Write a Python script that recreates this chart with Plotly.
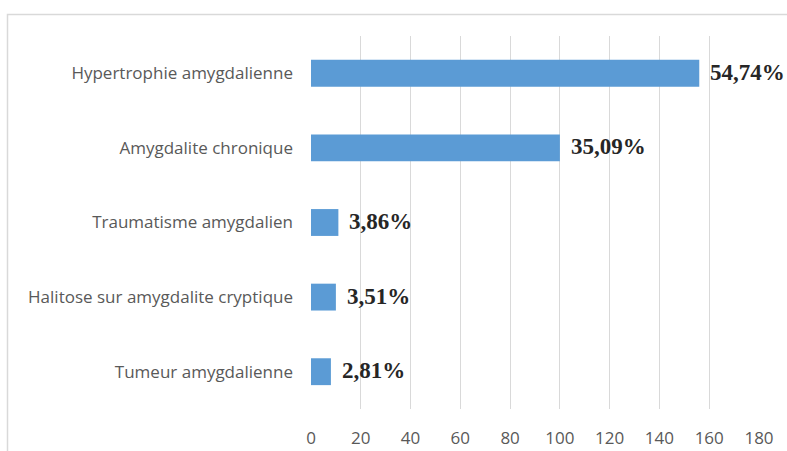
import plotly.graph_objects as go

categories = ["Hypertrophie amygdalienne", "Amygdalite chronique", "Traumatisme amygdalien",
              "Halitose sur amygdalite cryptique", "Tumeur amygdalienne"]
counts = [156, 100, 11, 10, 8]
pct_labels = ["54,74%", "35,09%", "3,86%", "3,51%", "2,81%"]
tick_vals = [0, 20, 40, 60, 80, 100, 120, 140, 160, 180]

W, H = 787, 451
L, R, T, B = 311, 28, 36, 42
pw, ph = W - L - R, H - T - B

fig = go.Figure()
fig.add_trace(go.Bar(
    y=categories, x=counts, orientation="h",
    marker=dict(color="#5b9bd5", line=dict(width=0)),
    width=0.36, hoverinfo="skip",
))

for c, v, t in zip(categories, counts, pct_labels):
    fig.add_annotation(x=v, y=c, text="<b>" + t + "</b>", showarrow=False,
                       xanchor="left", yanchor="middle", xshift=9, yshift=1,
                       font=dict(family="Liberation Serif", size=23, color="#262626"))

def px2x(p):
    return (p - L) / pw

def py2y(p):
    return (H - B - p) / ph

fig.add_shape(type="rect", xref="paper", yref="paper",
              x0=px2x(7.5), x1=px2x(830), y0=py2y(14.5), y1=py2y(480),
              line=dict(color="#d9d9d9", width=1.5), fillcolor="rgba(0,0,0,0)", layer="below")

fig.update_layout(
    width=W, height=H,
    margin=dict(l=L, r=R, t=T, b=B, pad=0, autoexpand=False),
    plot_bgcolor="white", paper_bgcolor="white",
    showlegend=False,
    xaxis=dict(range=[0, 180], tickvals=tick_vals, showgrid=True, gridcolor="#d9d9d9", gridwidth=1,
               zeroline=False, showline=False, ticks="", ticklen=0, ticklabelstandoff=17,
               automargin=False,
               tickfont=dict(family="Open Sans", size=17, color="#595959"), fixedrange=True),
    yaxis=dict(categoryorder="array", categoryarray=categories[::-1], range=[-0.5, 4.5],
               showgrid=False, zeroline=False, showline=False, ticks="",
               ticklabelstandoff=17, automargin=False,
               tickfont=dict(family="Open Sans", size=17, color="#595959"), fixedrange=True),
)

fig.write_html("out.html")
